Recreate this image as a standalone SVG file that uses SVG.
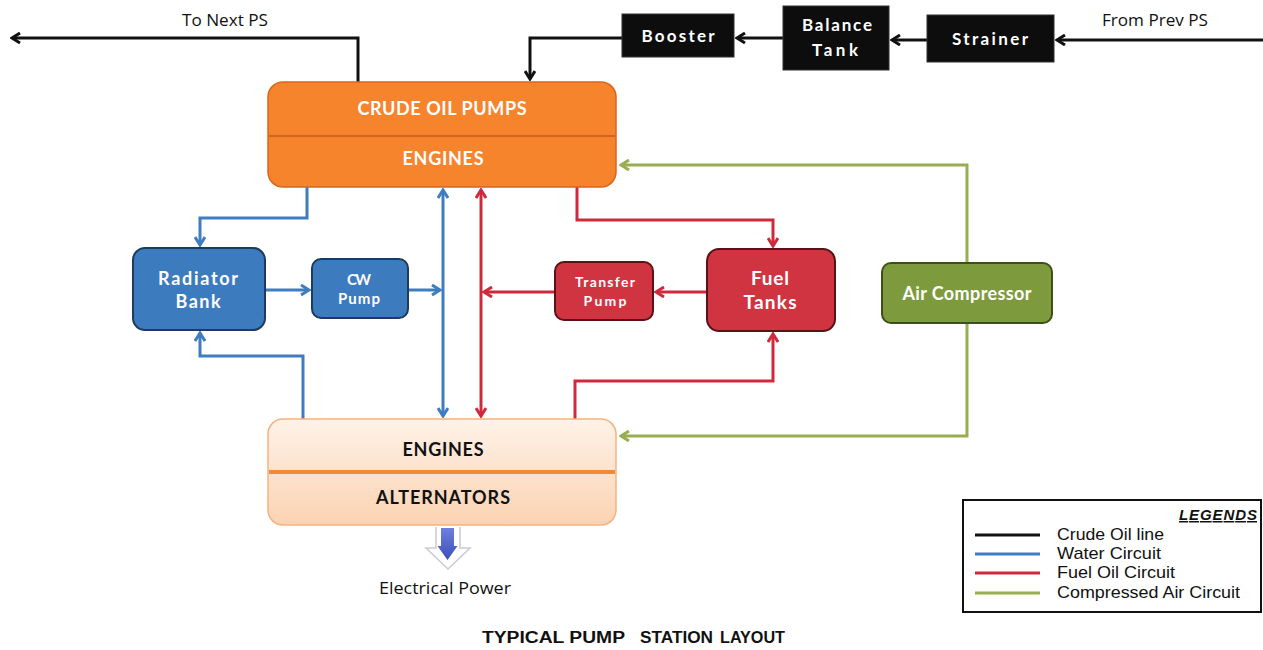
<svg xmlns="http://www.w3.org/2000/svg" width="1263" height="650" viewBox="0 0 1263 650">
<defs>
<style>
.lbl{font-family:Lato,"Open Sans","Liberation Sans",sans-serif;font-weight:bold;text-anchor:middle}
.w{fill:#ffffff}
.k{fill:#111111}
.plain{font-family:"Open Sans","Liberation Sans",sans-serif;fill:#111;text-anchor:middle}
.leg{font-family:"Liberation Sans",Arial,sans-serif;font-size:17px;fill:#111}
.ttl{font-family:"Liberation Sans",Arial,sans-serif;font-weight:bold;font-size:16px;fill:#111}
.blk{fill:none;stroke:#111;stroke-width:3}
.blu{fill:none;stroke:#3f7cc0;stroke-width:3}
.red{fill:none;stroke:#cf2a3c;stroke-width:3}
.grn{fill:none;stroke:#98ae52;stroke-width:3}
</style>
<marker id="aK" viewBox="0 0 12 12" refX="10" refY="6" markerWidth="12" markerHeight="12" markerUnits="userSpaceOnUse" orient="auto-start-reverse"><path d="M2,1 L10,6 L2,11" fill="none" stroke="#111" stroke-width="3"/></marker>
<marker id="aB" viewBox="0 0 12 12" refX="10" refY="6" markerWidth="12" markerHeight="12" markerUnits="userSpaceOnUse" orient="auto-start-reverse"><path d="M2,1 L10,6 L2,11" fill="none" stroke="#3f7cc0" stroke-width="3"/></marker>
<marker id="aR" viewBox="0 0 12 12" refX="10" refY="6" markerWidth="12" markerHeight="12" markerUnits="userSpaceOnUse" orient="auto-start-reverse"><path d="M2,1 L10,6 L2,11" fill="none" stroke="#cf2a3c" stroke-width="3"/></marker>
<marker id="aG" viewBox="0 0 12 12" refX="10" refY="6" markerWidth="12" markerHeight="12" markerUnits="userSpaceOnUse" orient="auto-start-reverse"><path d="M2,1 L10,6 L2,11" fill="none" stroke="#98ae52" stroke-width="3"/></marker>
<linearGradient id="peach" x1="0" y1="0" x2="0" y2="1"><stop offset="0" stop-color="#fef2e8"/><stop offset="1" stop-color="#fbd3b2"/></linearGradient>
<linearGradient id="bar" x1="0" y1="0" x2="0" y2="1"><stop offset="0" stop-color="#6f7fe0"/><stop offset="1" stop-color="#3d4fb8"/></linearGradient>
</defs>
<rect width="1263" height="650" fill="#ffffff"/>

<g id="connectors">
<path class="blk" d="M358,82 V38 H12" marker-end="url(#aK)"/>
<path class="blk" d="M1263,40 H1057" marker-end="url(#aK)"/>
<path class="blk" d="M927,40 H892" marker-end="url(#aK)"/>
<path class="blk" d="M783,38 H737" marker-end="url(#aK)"/>
<path class="blk" d="M622,38 H530 V79" marker-end="url(#aK)"/>
<path class="blu" d="M307,187 V218 H200 V245" marker-end="url(#aB)"/>
<path class="blu" d="M303,419 V356 H200 V333" marker-end="url(#aB)"/>
<path class="blu" d="M266,290 H309" marker-end="url(#aB)"/>
<path class="blu" d="M409,290 H440" marker-end="url(#aB)"/>
<path class="blu" d="M443,190 V416" marker-start="url(#aB)" marker-end="url(#aB)"/>
<path class="red" d="M481,190 V416" marker-start="url(#aR)" marker-end="url(#aR)"/>
<path class="red" d="M577,187 V220 H773 V246" marker-end="url(#aR)"/>
<path class="red" d="M575,419 V381 H773 V334" marker-end="url(#aR)"/>
<path class="red" d="M706,292 H656" marker-end="url(#aR)"/>
<path class="red" d="M554,292 H484" marker-end="url(#aR)"/>
<path class="grn" d="M967,263 V165 H621" marker-end="url(#aG)"/>
<path class="grn" d="M967,323 V436 H621" marker-end="url(#aG)"/>
</g>

<text class="plain" x="225" y="26" font-size="16" textLength="86" lengthAdjust="spacingAndGlyphs">To Next PS</text>
<text class="plain" x="1155" y="26" font-size="16" textLength="106" lengthAdjust="spacingAndGlyphs">From Prev PS</text>

<g id="booster"><rect x="622" y="14" width="112" height="43" fill="#0d0d0d" stroke="#333" stroke-width="1"/><text class="lbl w" x="678" y="42" font-size="17" textLength="73">Booster</text></g>
<g id="balance-tank"><rect x="783" y="6" width="106" height="64" fill="#0d0d0d" stroke="#333" stroke-width="1"/><text class="lbl w" x="837" y="31" font-size="17" textLength="70">Balance</text><text class="lbl w" x="835" y="56" font-size="17" textLength="46">Tank</text></g>
<g id="strainer"><rect x="927" y="15" width="127" height="47" fill="#0d0d0d" stroke="#333" stroke-width="1"/><text class="lbl w" x="990" y="45" font-size="17" textLength="76">Strainer</text></g>

<g id="crude-oil-pumps">
<rect x="268" y="82" width="348" height="105" rx="15" fill="#f6842d" stroke="#d9661a" stroke-width="1.5"/>
<line x1="269" y1="136" x2="615" y2="136" stroke="#c65a16" stroke-width="1.5"/>
<text class="lbl w" x="442" y="115" font-size="18" textLength="169">CRUDE OIL PUMPS</text>
<text class="lbl w" x="443" y="165" font-size="18" textLength="81">ENGINES</text>
</g>

<g id="radiator-bank"><rect x="133" y="248" width="132" height="82" rx="12" fill="#3d7bbf" stroke="#1e3a5c" stroke-width="2"/><text class="lbl w" x="198" y="285" font-size="18" textLength="80">Radiator</text><text class="lbl w" x="198" y="308" font-size="18" textLength="45">Bank</text></g>
<g id="cw-pump"><rect x="312" y="259" width="96" height="59" rx="9" fill="#3d7bbf" stroke="#1e3a5c" stroke-width="2"/><text class="lbl w" x="359" y="285" font-size="15" textLength="24">CW</text><text class="lbl w" x="359" y="304" font-size="15" textLength="42">Pump</text></g>
<g id="transfer-pump"><rect x="555" y="262" width="98" height="58" rx="9" fill="#cf3440" stroke="#5a1218" stroke-width="2"/><text class="lbl w" x="605" y="287" font-size="14" textLength="60">Transfer</text><text class="lbl w" x="605" y="306" font-size="14" textLength="43">Pump</text></g>
<g id="fuel-tanks"><rect x="707" y="249" width="128" height="82" rx="12" fill="#cf3440" stroke="#5a1218" stroke-width="2"/><text class="lbl w" x="770" y="285" font-size="19" textLength="38">Fuel</text><text class="lbl w" x="770" y="309" font-size="19" textLength="53">Tanks</text></g>
<g id="air-compressor"><rect x="882" y="263" width="170" height="60" rx="9" fill="#7d9a3c" stroke="#3e4f1a" stroke-width="2"/><text class="lbl w" x="967" y="300" font-size="18" textLength="129">Air Compressor</text></g>

<g id="engines-alternators">
<rect x="268" y="419" width="348" height="106" rx="15" fill="url(#peach)" stroke="#f6b27e" stroke-width="1.5"/>
<line x1="269" y1="472" x2="615" y2="472" stroke="#f08a3a" stroke-width="4"/>
<text class="lbl k" x="443" y="456" font-size="18" textLength="81">ENGINES</text>
<text class="lbl k" x="443" y="504" font-size="18" textLength="134">ALTERNATORS</text>
</g>

<g id="electrical-power">
<path d="M436,527 V548 H426 L448,569 L470,548 H460 V527" fill="#ffffff" stroke="#c9cbd8" stroke-width="1.5"/>
<path d="M441,528 H454 V546 H457.5 L447.5,560 L437.5,546 H441 Z" fill="url(#bar)"/>
<text class="plain" x="445" y="594" font-size="16" textLength="132" lengthAdjust="spacingAndGlyphs">Electrical Power</text>
</g>

<g id="title">
<text class="ttl" x="482" y="643" textLength="143" lengthAdjust="spacingAndGlyphs">TYPICAL PUMP</text>
<text class="ttl" x="640" y="643" textLength="73" lengthAdjust="spacingAndGlyphs">STATION</text>
<text class="ttl" x="720" y="643" textLength="65" lengthAdjust="spacingAndGlyphs">LAYOUT</text>
</g>

<g id="legend">
<rect x="963" y="500" width="298" height="112" fill="#ffffff" stroke="#111" stroke-width="2"/>
<text x="1257" y="520" font-family="'Liberation Sans',Arial,sans-serif" font-weight="bold" font-style="italic" font-size="15" fill="#111" text-anchor="end" text-decoration="underline" textLength="78">LEGENDS</text>
<line x1="975" y1="535" x2="1040" y2="535" stroke="#111" stroke-width="3"/>
<line x1="975" y1="554" x2="1040" y2="554" stroke="#3f7cc0" stroke-width="3"/>
<line x1="975" y1="573" x2="1040" y2="573" stroke="#cf2a3c" stroke-width="3"/>
<line x1="975" y1="593" x2="1040" y2="593" stroke="#98ae52" stroke-width="3"/>
<text class="leg" x="1057" y="540" textLength="107" lengthAdjust="spacingAndGlyphs">Crude Oil line</text>
<text class="leg" x="1057" y="559" textLength="104" lengthAdjust="spacingAndGlyphs">Water Circuit</text>
<text class="leg" x="1057" y="578" textLength="118" lengthAdjust="spacingAndGlyphs">Fuel Oil Circuit</text>
<text class="leg" x="1057" y="598" textLength="183" lengthAdjust="spacingAndGlyphs">Compressed Air Circuit</text>
</g>
</svg>
